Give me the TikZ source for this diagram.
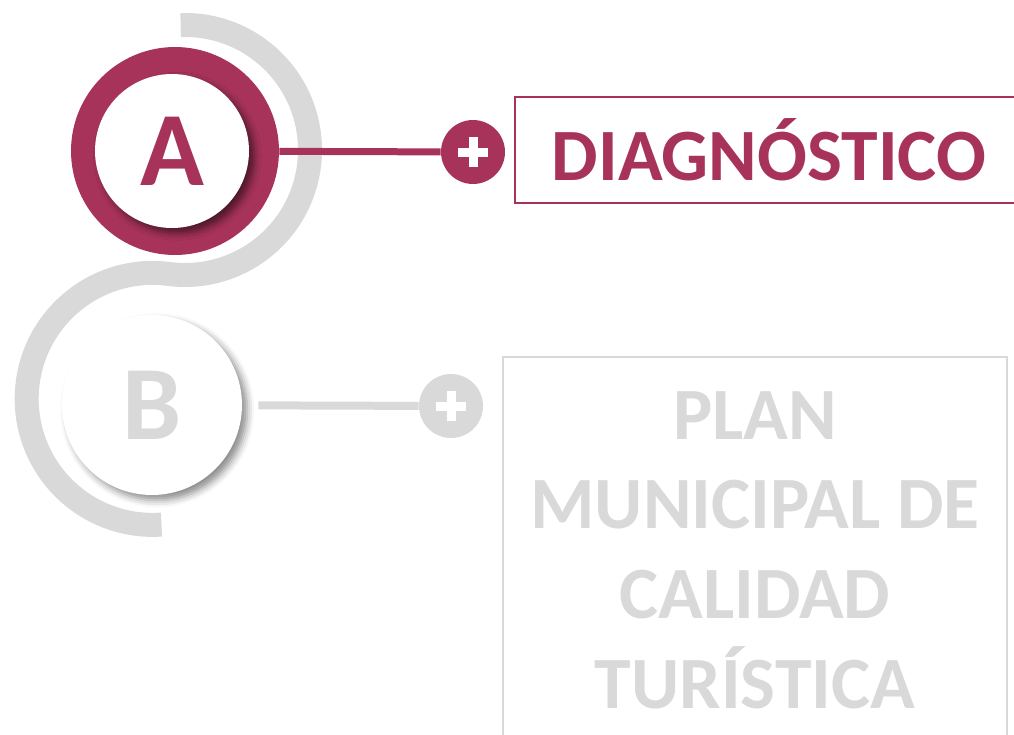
\documentclass[tikz,border=0pt]{standalone}
\usepackage{fontspec}
\setmainfont{Carlito}
\usetikzlibrary{positioning, shadows, shadows.blur}
\definecolor{vino}{HTML}{A8335A}
\definecolor{gris}{HTML}{D9D9D9}

\begin{document}
\begin{tikzpicture}[
  x=0.02cm, y=0.02cm,
  letter/.style={circle, fill=white, inner sep=0pt,
    font=\fontsize{60}{60}\selectfont\bfseries},
  plusdot/.style={circle, minimum size=1.28cm, inner sep=0pt,
    path picture={\draw[white, line width=0.18cm]
      ([xshift=-0.3cm]path picture bounding box.center) -- ([xshift=0.3cm]path picture bounding box.center)
      ([yshift=-0.3cm]path picture bounding box.center) -- ([yshift=0.3cm]path picture bounding box.center);}},
  stagebox/.style={rectangle, draw, line width=0.04cm, inner sep=0pt, align=center,
    font=\fontsize{42}{51}\selectfont\bfseries},
  ]
  \useasboundingbox (0,0) rectangle (1014,-734);

  % grey band behind the two stages
  \draw[gris, line width=0.48cm] (185,-150) ++(92:125)
    arc[start angle=92, end angle=-97.4, radius=125]
    arc[start angle=82.6, end angle=274, radius=126];

  % stage A
  \node[circle, fill=vino, minimum size=4.16cm, inner sep=0pt] (ringA) at (175,-151) {};
  \node[letter, minimum size=3.08cm, text=vino,
    blur shadow={shadow xshift=3pt, shadow yshift=-3pt, shadow blur radius=4pt, shadow opacity=55}]
    (A) at (172,-151) {A};
  \node[plusdot, fill=vino] (plusA) at (473,-152) {};
  \node[stagebox, draw=vino, text=vino, minimum width=10.16cm, minimum height=2.14cm]
    (diag) at (769,-150) {DIAGNÓSTICO};

  % stage B
  \node[letter, minimum size=3.6cm, text=gris,
    blur shadow={shadow xshift=3pt, shadow yshift=-3pt, shadow blur radius=4pt, shadow opacity=45}]
    (B) at (152,-405) {B};
  \node[plusdot, fill=gris] (plusB) at (451,-406) {};
  \node[stagebox, draw=gris, text=gris, minimum width=10.08cm, minimum height=7.72cm]
    (plan) at (755,-550) {PLAN\\MUNICIPAL DE\\CALIDAD\\TURÍSTICA};

  \path (ringA) edge[vino, line width=0.14cm] (plusA)
        (B) edge[gris, line width=0.16cm, shorten <=0.32cm] (plusB);
\end{tikzpicture}
\end{document}
